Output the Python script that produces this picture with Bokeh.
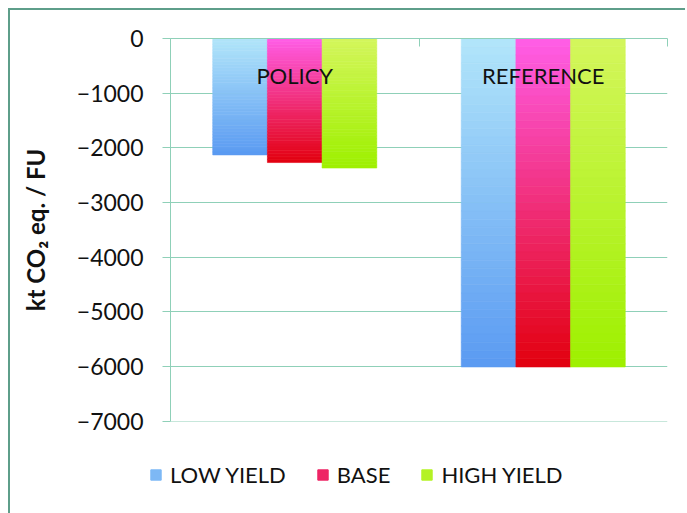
from bokeh.plotting import figure
from bokeh.layouts import column
from bokeh.models import (Range1d, FixedTicker, ColumnDataSource, Legend, LegendItem)
from bokeh.transform import dodge
from bokeh.core.properties import value
from bokeh.embed import file_html
from bokeh.resources import INLINE

# ---- data ----
categories = ["POLICY", "REFERENCE"]
series = ["LOW YIELD", "BASE", "HIGH YIELD"]
low_yield = [-2130, -6010]
base = [-2270, -6010]
high_yield = [-2370, -6010]
y_ticks = [0, -1000, -2000, -3000, -4000, -5000, -6000, -7000]

# ---- styles ----
FONT = "Lato"
GRID = "#8fd0b8"
TEXT = "#111111"
gradients = {
    "LOW YIELD": ("#b2e6fa", "#5a9af2"),
    "BASE": ("#ff5ee8", "#e2000e"),
    "HIGH YIELD": ("#d4f65c", "#9ef000"),
}
offsets = [-0.22, 0.0, 0.22]
BAR_W = 0.22
N_SLICES = 40
W = 675

cat_pos = [i + 0.5 for i in range(len(categories))]  # category centres on a 0..n axis


def hex2rgb(h):
    h = h.lstrip("#")
    return tuple(int(h[i:i + 2], 16) for i in (0, 2, 4))


def mix(c1, c2, t):
    a, b = hex2rgb(c1), hex2rgb(c2)
    return "#%02x%02x%02x" % tuple(round(a[i] + (b[i] - a[i]) * t) for i in range(3))


p = figure(width=W, height=425, x_range=Range1d(0, len(categories)),
           y_range=Range1d(min(y_ticks) - 8, max(y_ticks)),
           x_axis_location="above", y_axis_location="left",
           output_backend="svg", toolbar_location=None,
           min_border_left=160, min_border_right=18, min_border_top=28, min_border_bottom=14)
p.outline_line_color = None
p.background_fill_color = "white"
p.border_fill_color = "white"

xa = p.xaxis[0]
xa.ticker = FixedTicker(ticks=list(range(len(categories) + 1)))
xa.major_label_text_font_size = "0px"
xa.major_label_text_color = None
xa.axis_line_color = GRID
xa.major_tick_line_color = GRID
xa.major_tick_in = 8
xa.major_tick_out = 0
xa.minor_tick_line_color = None

ya = p.yaxis[0]
ya.ticker = FixedTicker(ticks=y_ticks)
ya.bounds = (min(y_ticks), max(y_ticks))
ya.axis_line_color = GRID
ya.major_tick_line_color = GRID
ya.major_tick_in = 0
ya.major_tick_out = 8
ya.minor_tick_line_color = None
ya.major_label_text_font = FONT
ya.major_label_text_font_size = "23px"
ya.major_label_text_color = TEXT
ya.major_label_standoff = 19
ya.axis_label = "kt CO₂ eq. / FU"
ya.axis_label_text_font = FONT
ya.axis_label_text_font_size = "24px"
ya.axis_label_text_font_style = "bold"
ya.axis_label_text_color = TEXT
ya.axis_label_standoff = 24

p.xgrid.grid_line_color = None
p.ygrid.grid_line_color = GRID
p.ygrid.ticker = FixedTicker(ticks=y_ticks)

for s, vals, off in zip(series, [low_yield, base, high_yield], offsets):
    top_c, bot_c = gradients[s]
    xs, tops, bots, cols = [], [], [], []
    for cx, v in zip(cat_pos, vals):
        for k in range(N_SLICES):
            xs.append(cx)
            tops.append(v * k / N_SLICES)
            bots.append(v * (k + 1) / N_SLICES)
            cols.append(mix(top_c, bot_c, (k + 0.5) / N_SLICES))
    src = ColumnDataSource(dict(x=xs, top=tops, bottom=bots, color=cols))
    p.vbar(x=dodge("x", off), top="top", bottom="bottom", width=BAR_W,
           fill_color="color", line_color="color", line_width=0.6, source=src)

p.text(x=cat_pos, y=[-680] * len(categories), text=categories,
       text_font=value(FONT), text_font_size="22px", text_color=TEXT,
       text_align="center", text_baseline="middle")

# ---- legend strip (separate small figure below the chart) ----
lf = figure(width=W, height=78, x_range=Range1d(0, 1), y_range=Range1d(0, 1),
            output_backend="svg", toolbar_location=None,
            min_border_left=0, min_border_right=0, min_border_top=0, min_border_bottom=0,
            x_axis_type=None, y_axis_type=None)
lf.outline_line_color = None
lf.grid.grid_line_color = None
lf.background_fill_color = "white"
lf.border_fill_color = "white"

legend_loc = "center"
if "frame_align" in lf.properties():
    lf.frame_align = False
    legend_loc = (139, 25)

items = []
for s in series:
    top_c, bot_c = gradients[s]
    c = mix(top_c, bot_c, 0.6)
    r = lf.vbar(x=[-5], top=[-5], bottom=[-6], width=0.1, fill_color=c, line_color=c)
    items.append(LegendItem(label=s, renderers=[r]))

legend = Legend(items=items, orientation="horizontal", location=legend_loc)
legend.border_line_color = None
legend.background_fill_alpha = 0
legend.padding = 0
legend.margin = 0
legend.spacing = 30
legend.label_standoff = 8
legend.glyph_width = 13
legend.glyph_height = 13
legend.label_text_font = FONT
legend.label_text_font_size = "22px"
legend.label_text_color = TEXT
lf.add_layout(legend, "center")

layout = column(p, lf, spacing=0)
layout.styles = {"border-left": "2px solid #5e9e8a", "border-top": "2px solid #5e9e8a",
                 "margin-left": "8px", "margin-top": "8px"}

open("out.html", "w").write(file_html(layout, INLINE))
